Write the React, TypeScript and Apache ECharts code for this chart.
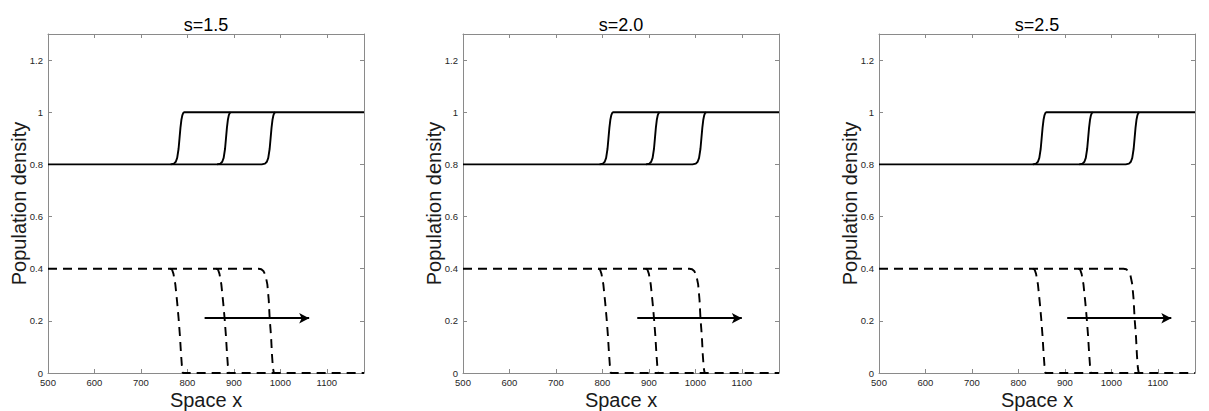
import React, { useEffect, useRef } from "react";
import * as echarts from "echarts";

// ---------- data ----------
const titles = ["s=1.5", "s=2.0", "s=2.5"];
const xRange = [500, 1180];
const yRange = [0, 1.3];
const xStep = 100;
const yStep = 0.2;
const xName = "Space x";
const yName = "Population density";

// Each panel: three fronts of the solid (upper) density and three of the dashed (lower) density.
// Shared plateaus are carried by one curve only, so that overlapping strokes do not darken.

// s = 1.5
const s15Solid1 = [[764, 0.8], [771, 0.803], [775, 0.81], [778, 0.825], [781, 0.86], [783, 0.9], [785, 0.94], [787, 0.97], [789, 0.988], [791, 0.997], [793, 1], [1180, 1]];
const s15Solid2 = [[864, 0.8], [871, 0.803], [875, 0.81], [878, 0.825], [881, 0.86], [883, 0.9], [885, 0.94], [887, 0.97], [889, 0.988], [891, 0.997], [893, 1]];
const s15Solid3 = [[500, 0.8], [960, 0.8], [967, 0.803], [971, 0.81], [974, 0.825], [977, 0.86], [979, 0.9], [981, 0.94], [983, 0.97], [985, 0.988], [987, 0.997], [989, 1]];
const s15Dash1 = [[763, 0.4], [767, 0.396], [770, 0.38], [774, 0.34], [778, 0.27], [781, 0.21], [784, 0.14], [786, 0.08], [788, 0.03], [790, 0], [1180, 0]];
const s15Dash2 = [[862, 0.4], [866, 0.396], [869, 0.38], [873, 0.34], [877, 0.27], [880, 0.21], [883, 0.14], [885, 0.08], [887, 0.03], [889, 0]];
const s15Dash3 = [[500, 0.4], [953, 0.4], [959, 0.398], [964, 0.39], [968, 0.375], [972, 0.34], [975, 0.28], [977, 0.21], [980, 0.14], [982, 0.07], [984, 0.02], [986, 0]];
const s15Arrow = [[837, 0.21], [1062, 0.21]];

// s = 2.0
const s20Solid1 = [[794, 0.8], [801, 0.803], [805, 0.81], [808, 0.825], [811, 0.86], [813, 0.9], [815, 0.94], [817, 0.97], [819, 0.988], [821, 0.997], [823, 1], [1180, 1]];
const s20Solid2 = [[894, 0.8], [901, 0.803], [905, 0.81], [908, 0.825], [911, 0.86], [913, 0.9], [915, 0.94], [917, 0.97], [919, 0.988], [921, 0.997], [923, 1]];
const s20Solid3 = [[500, 0.8], [994, 0.8], [1001, 0.803], [1005, 0.81], [1008, 0.825], [1011, 0.86], [1013, 0.9], [1015, 0.94], [1017, 0.97], [1019, 0.988], [1021, 0.997], [1023, 1]];
const s20Dash1 = [[791, 0.4], [795, 0.396], [798, 0.38], [802, 0.34], [806, 0.27], [809, 0.21], [812, 0.14], [814, 0.08], [816, 0.03], [818, 0], [1180, 0]];
const s20Dash2 = [[893, 0.4], [897, 0.396], [900, 0.38], [904, 0.34], [908, 0.27], [911, 0.21], [914, 0.14], [916, 0.08], [918, 0.03], [920, 0]];
const s20Dash3 = [[500, 0.4], [987, 0.4], [993, 0.398], [998, 0.39], [1002, 0.375], [1006, 0.34], [1009, 0.28], [1011, 0.21], [1014, 0.14], [1016, 0.07], [1018, 0.02], [1020, 0]];
const s20Arrow = [[875, 0.21], [1100, 0.21]];

// s = 2.5
const s25Solid1 = [[831, 0.8], [838, 0.803], [842, 0.81], [845, 0.825], [848, 0.86], [850, 0.9], [852, 0.94], [854, 0.97], [856, 0.988], [858, 0.997], [860, 1], [1180, 1]];
const s25Solid2 = [[931, 0.8], [938, 0.803], [942, 0.81], [945, 0.825], [948, 0.86], [950, 0.9], [952, 0.94], [954, 0.97], [956, 0.988], [958, 0.997], [960, 1]];
const s25Solid3 = [[500, 0.8], [1031, 0.8], [1038, 0.803], [1042, 0.81], [1045, 0.825], [1048, 0.86], [1050, 0.9], [1052, 0.94], [1054, 0.97], [1056, 0.988], [1058, 0.997], [1060, 1]];
const s25Dash1 = [[831, 0.4], [835, 0.396], [838, 0.38], [842, 0.34], [846, 0.27], [849, 0.21], [852, 0.14], [854, 0.08], [856, 0.03], [858, 0], [1180, 0]];
const s25Dash2 = [[929, 0.4], [933, 0.396], [936, 0.38], [940, 0.34], [944, 0.27], [947, 0.21], [950, 0.14], [952, 0.08], [954, 0.03], [956, 0]];
const s25Dash3 = [[500, 0.4], [1026, 0.4], [1032, 0.398], [1037, 0.39], [1041, 0.375], [1045, 0.34], [1048, 0.28], [1050, 0.21], [1053, 0.14], [1055, 0.07], [1057, 0.02], [1059, 0]];
const s25Arrow = [[905, 0.21], [1129, 0.21]];

const panelSolid = [
  [s15Solid1, s15Solid2, s15Solid3],
  [s20Solid1, s20Solid2, s20Solid3],
  [s25Solid1, s25Solid2, s25Solid3],
];
const panelDash = [
  [s15Dash1, s15Dash2, s15Dash3],
  [s20Dash1, s20Dash2, s20Dash3],
  [s25Dash1, s25Dash2, s25Dash3],
];
const panelArrow = [s15Arrow, s20Arrow, s25Arrow];

// ---------- layout / style ----------
const FONT = "'Liberation Sans', Arial, Helvetica, sans-serif";
const AXIS_COLOR = "#8a8a8a";
const LABEL_COLOR = "#262626";
const gridLefts = [48, 463, 879];
const gridWidth = 316;
const gridTop = 34;
const gridHeight = 339;

function buildOption() {
  const grid: any[] = [];
  const xAxis: any[] = [];
  const yAxis: any[] = [];
  const series: any[] = [];
  const graphic: any[] = [];

  titles.forEach((t, i) => {
    grid.push({
      left: gridLefts[i], top: gridTop, width: gridWidth, height: gridHeight,
      containLabel: false, outerBoundsMode: "none",
    });
    const axisLine = { show: true, onZero: false, lineStyle: { color: AXIS_COLOR, width: 1 } };
    const axisTick = { show: true, inside: true, length: 4, lineStyle: { color: AXIS_COLOR, width: 1 } };
    xAxis.push({
      type: "value", gridIndex: i, position: "bottom",
      min: xRange[0], max: xRange[1], interval: xStep,
      axisLine, axisTick, splitLine: { show: false },
      axisLabel: {
        show: true, margin: 4, fontSize: 9.5, color: LABEL_COLOR, fontFamily: FONT,
        showMaxLabel: false, formatter: (v: number) => String(v),
      },
      name: xName, nameLocation: "middle", nameGap: 17, nameMoveOverlap: false,
      nameTextStyle: { fontSize: 20, color: "#1a1a1a", fontFamily: FONT },
    });
    xAxis.push({
      type: "value", gridIndex: i, position: "top",
      min: xRange[0], max: xRange[1], interval: xStep,
      axisLine, axisTick, splitLine: { show: false }, axisLabel: { show: false },
    });
    yAxis.push({
      type: "value", gridIndex: i, position: "left",
      min: yRange[0], max: yRange[1], interval: yStep,
      axisLine, axisTick, splitLine: { show: false },
      axisLabel: {
        show: true, margin: 5, fontSize: 9.5, color: LABEL_COLOR, fontFamily: FONT,
        showMaxLabel: false, formatter: (v: number) => String(Math.round(v * 10) / 10),
      },
      name: yName, nameLocation: "middle", nameGap: 19, nameMoveOverlap: false,
      nameTextStyle: { fontSize: 20, color: "#1a1a1a", fontFamily: FONT },
    });
    yAxis.push({
      type: "value", gridIndex: i, position: "right",
      min: yRange[0], max: yRange[1], interval: yStep,
      axisLine, axisTick, splitLine: { show: false }, axisLabel: { show: false },
    });

    panelSolid[i].forEach((d) => {
      series.push({
        type: "line", xAxisIndex: 2 * i, yAxisIndex: 2 * i, data: d,
        symbol: "none", showSymbol: false, silent: true, clip: true,
        lineStyle: { color: "#000", width: 1.9, type: "solid" },
      });
    });
    panelDash[i].forEach((d) => {
      series.push({
        type: "line", xAxisIndex: 2 * i, yAxisIndex: 2 * i, data: d,
        symbol: "none", showSymbol: false, silent: true, clip: true,
        lineStyle: { color: "#000", width: 1.9, type: [9, 6] },
      });
    });
    const a = panelArrow[i];
    series.push({
      type: "line", xAxisIndex: 2 * i, yAxisIndex: 2 * i, data: a,
      symbol: "none", showSymbol: false, silent: true,
      lineStyle: { opacity: 0 },
      markLine: {
        silent: true, animation: false,
        symbol: ["none", "arrow"], symbolSize: [8, 10],
        label: { show: false },
        lineStyle: { color: "#000", width: 1.9, type: "solid" },
        emphasis: { disabled: true },
        data: [[{ coord: a[0] }, { coord: a[1] }]],
      },
    });

    graphic.push({
      type: "text",
      x: gridLefts[i] + gridWidth / 2,
      y: 16,
      style: {
        text: t, fill: "#000", font: `18px ${FONT}`,
        fontSize: 18, fontFamily: FONT,
        align: "center", verticalAlign: "top",
        textAlign: "center", textVerticalAlign: "top",
      },
    });
  });

  return {
    animation: false,
    backgroundColor: "#fff",
    grid, xAxis, yAxis, series, graphic,
    tooltip: { show: false },
  };
}

export default function App() {
  const ref = useRef<HTMLDivElement>(null);
  useEffect(() => {
    document.body.style.margin = "0";
    document.body.style.overflow = "hidden";
    const chart = echarts.init(ref.current!, null, { renderer: "svg" });
    chart.setOption(buildOption() as any);
    return () => chart.dispose();
  }, []);
  return <div ref={ref} style={{ width: 1209, height: 411, background: "#fff" }} />;
}
